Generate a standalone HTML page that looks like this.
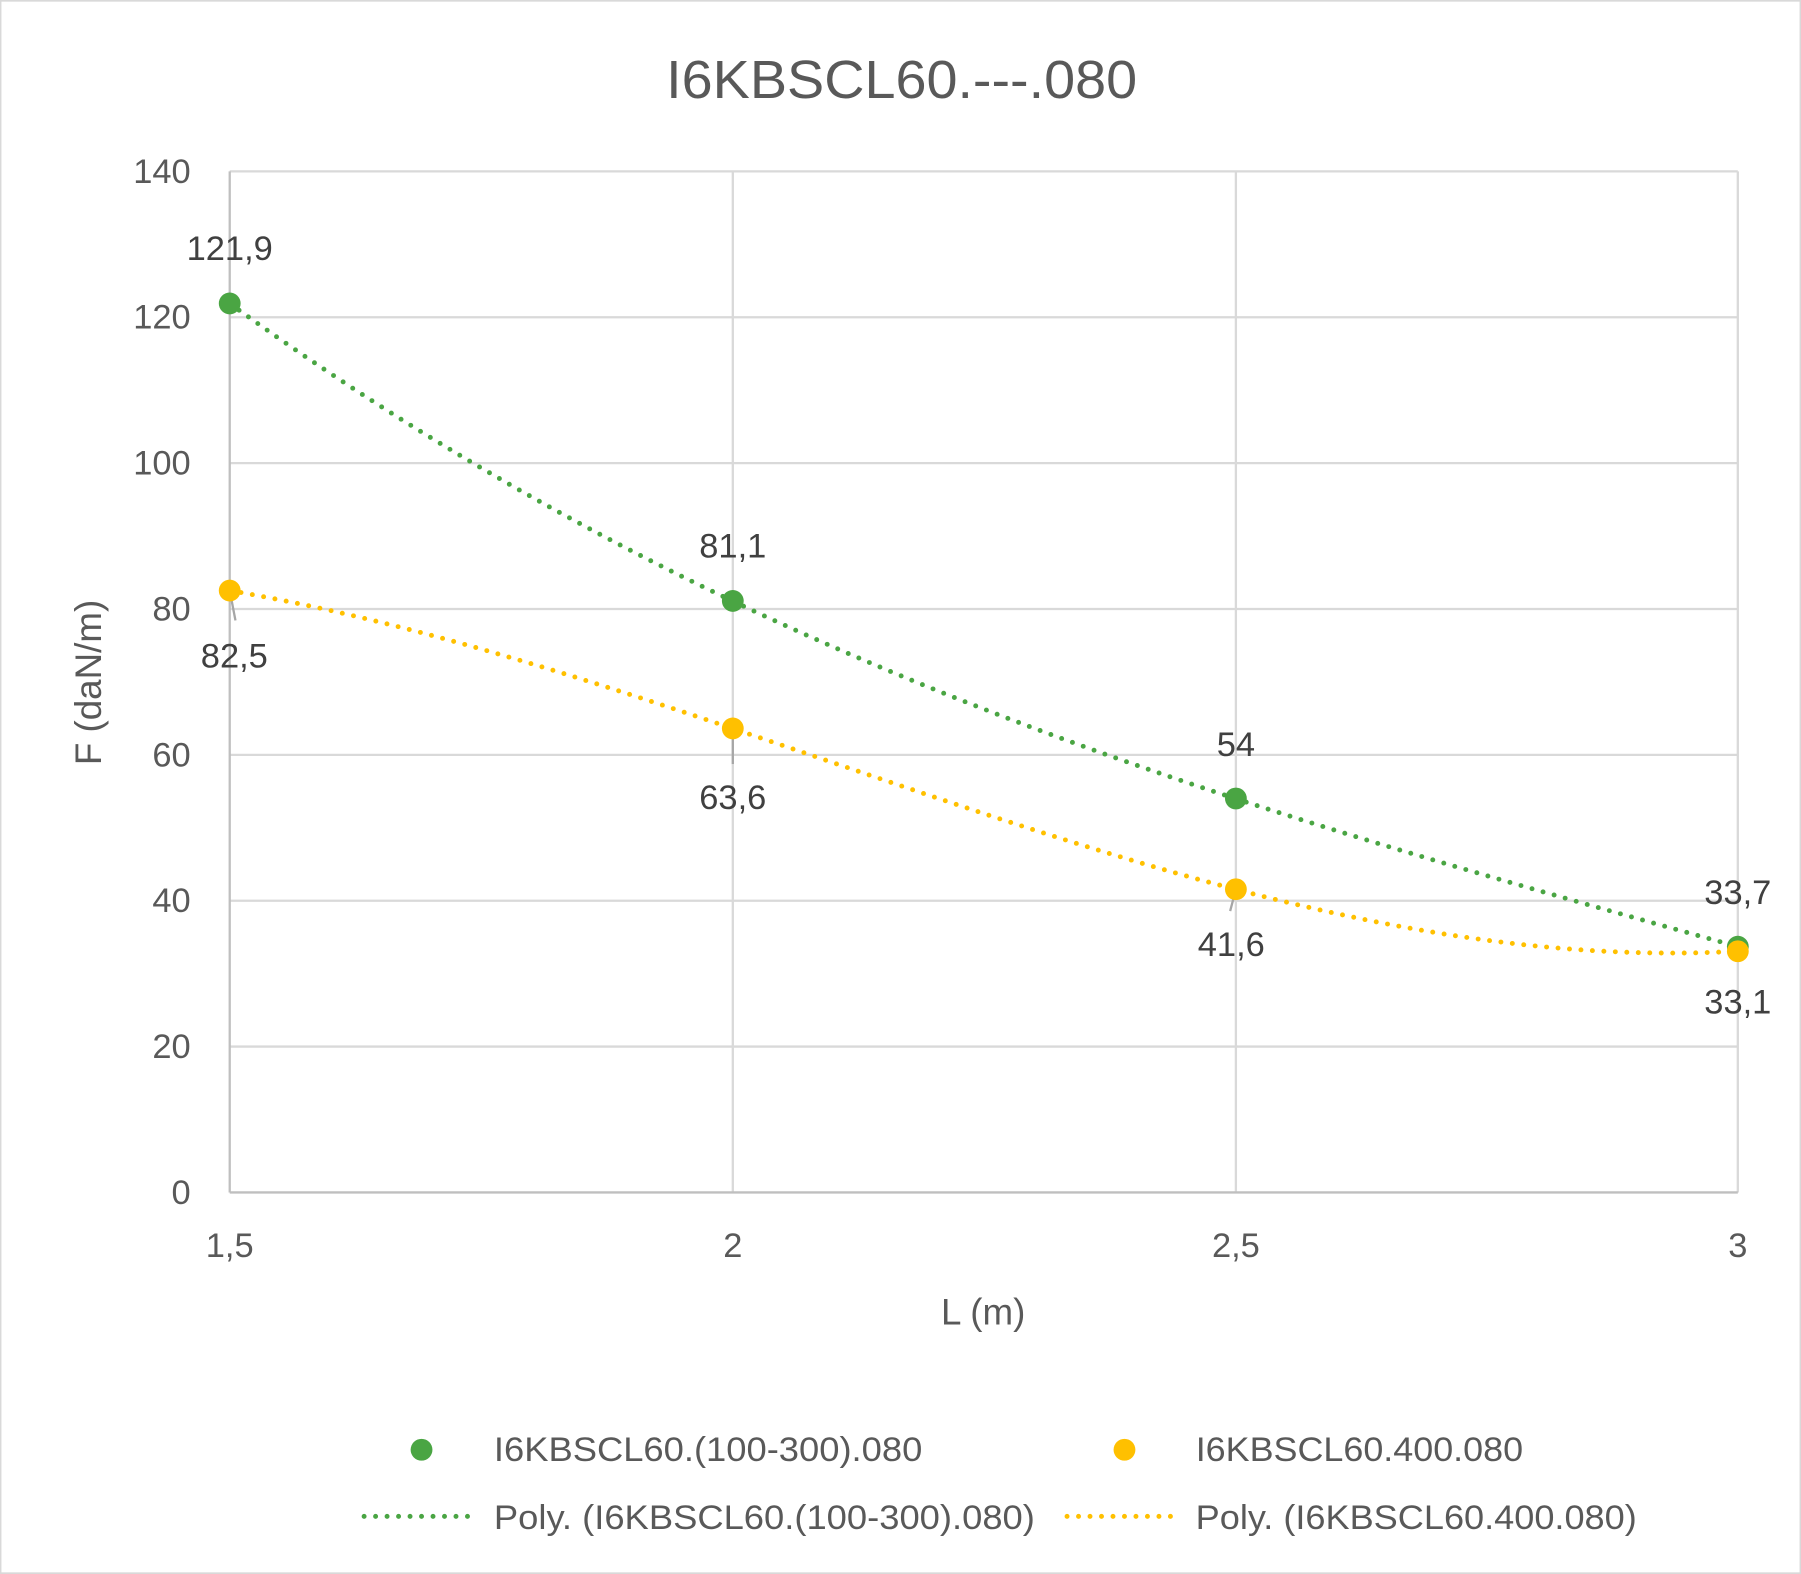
<!DOCTYPE html>
<html><head><meta charset="utf-8"><style>
html,body{margin:0;padding:0;background:#fff}
svg{display:block}
text{font-family:"Liberation Sans",sans-serif}
</style></head><body>
<svg width="1801" height="1574" viewBox="0 0 1568 1370" xmlns="http://www.w3.org/2000/svg">
<rect x="0.5" y="0.5" width="1567" height="1369" fill="#fff" stroke="#d9d9d9" stroke-width="1.5"/>
<text x="580" y="85" font-size="47" fill="#595959" textLength="410" lengthAdjust="spacingAndGlyphs">I6KBSCL60.---.080</text>
<g stroke="#d9d9d9" stroke-width="2">
<line x1="200" y1="149" x2="1513" y2="149"/>
<line x1="200" y1="276" x2="1513" y2="276"/>
<line x1="200" y1="403" x2="1513" y2="403"/>
<line x1="200" y1="530" x2="1513" y2="530"/>
<line x1="200" y1="657" x2="1513" y2="657"/>
<line x1="200" y1="784" x2="1513" y2="784"/>
<line x1="200" y1="911" x2="1513" y2="911"/>
<line x1="638" y1="149" x2="638" y2="1038"/>
<line x1="1076" y1="149" x2="1076" y2="1038"/>
<line x1="1513" y1="149" x2="1513" y2="1038"/>
</g>
<g stroke="#bfbfbf" stroke-width="2">
<line x1="200" y1="1038" x2="1513" y2="1038"/>
<line x1="200" y1="149" x2="200" y2="1038"/>
</g>
<g font-size="30" fill="#595959" text-anchor="end">
<text x="166" y="159">140</text><text x="166" y="286">120</text><text x="166" y="413">100</text>
<text x="166" y="540">80</text><text x="166" y="667">60</text><text x="166" y="794">40</text>
<text x="166" y="921">20</text><text x="166" y="1048">0</text>
</g>
<g font-size="30" fill="#595959" text-anchor="middle">
<text x="200" y="1094">1,5</text><text x="638" y="1094">2</text><text x="1076" y="1094">2,5</text><text x="1513" y="1094">3</text>
</g>
<text x="856" y="1153" font-size="32" fill="#595959" text-anchor="middle">L (m)</text>
<text transform="translate(88,594) rotate(-90)" font-size="32" fill="#595959" text-anchor="middle">F (daN/m)</text>
<g stroke="#a6a6a6" stroke-width="2">
<line x1="200" y1="514" x2="205" y2="540"/>
<line x1="638" y1="634" x2="638" y2="665"/>
<line x1="1076" y1="774" x2="1071" y2="793"/>
</g>
<path d="M200 264 C637.7 581.2 1075.3 701.8 1513 824" fill="none" stroke="#4aa543" stroke-width="4.3" stroke-dasharray="0 10" stroke-linecap="round"/>
<path d="M200 514 C637.7 588.7 1075.3 852.3 1513 828" fill="none" stroke="#ffc000" stroke-width="4.3" stroke-dasharray="0 10" stroke-linecap="round"/>
<g fill="#4aa543">
<circle cx="200" cy="264" r="9.5"/><circle cx="638" cy="523" r="9.5"/><circle cx="1076" cy="695" r="9.5"/><circle cx="1513" cy="824" r="9.5"/>
</g>
<g fill="#ffc000">
<circle cx="200" cy="514" r="9.5"/><circle cx="638" cy="634" r="9.5"/><circle cx="1076" cy="774" r="9.5"/><circle cx="1513" cy="828" r="9.5"/>
</g>
<g font-size="30" fill="#404040" text-anchor="middle">
<text x="200" y="226">121,9</text><text x="638" y="485">81,1</text><text x="1076" y="658">54</text><text x="1513" y="787">33,7</text>
<text x="204" y="581">82,5</text><text x="638" y="704">63,6</text><text x="1072" y="832">41,6</text><text x="1513" y="882">33,1</text>
</g>
<circle cx="367" cy="1262" r="9.5" fill="#4aa543"/>
<circle cx="979" cy="1262" r="9.5" fill="#ffc000"/>
<line x1="317" y1="1320" x2="415" y2="1320" stroke="#4aa543" stroke-width="4.3" stroke-dasharray="0 10" stroke-linecap="round"/>
<line x1="929" y1="1320" x2="1027" y2="1320" stroke="#ffc000" stroke-width="4.3" stroke-dasharray="0 10" stroke-linecap="round"/>
<g font-size="30" fill="#595959">
<text x="430" y="1272" textLength="373" lengthAdjust="spacingAndGlyphs">I6KBSCL60.(100-300).080</text>
<text x="1041" y="1272" textLength="285" lengthAdjust="spacingAndGlyphs">I6KBSCL60.400.080</text>
<text x="430" y="1331" textLength="471" lengthAdjust="spacingAndGlyphs">Poly. (I6KBSCL60.(100-300).080)</text>
<text x="1041" y="1331" textLength="384" lengthAdjust="spacingAndGlyphs">Poly. (I6KBSCL60.400.080)</text>
</g>
</svg>
</body></html>
